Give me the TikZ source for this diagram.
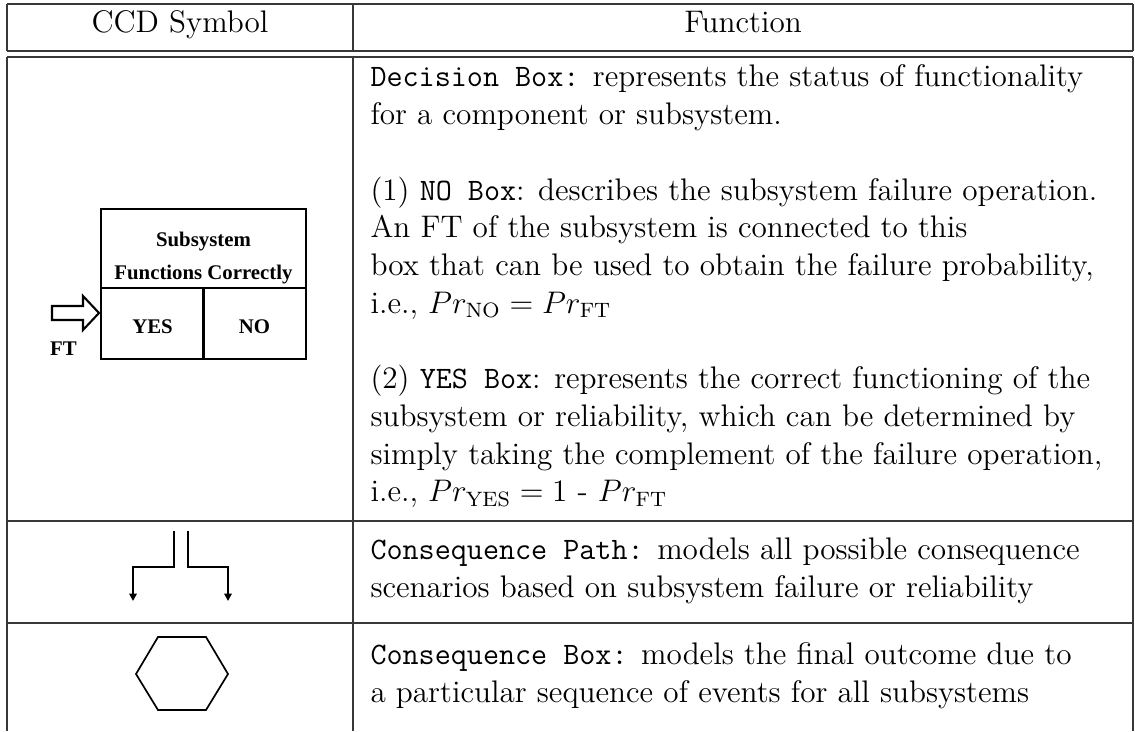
\documentclass[tikz,border=0pt]{standalone}
\usepackage{fontspec}
\newfontfamily\symfont{Liberation Serif}
\usetikzlibrary{arrows.meta}
\begin{document}
\begin{tikzpicture}[
  x=0.384615pt, y=-0.384615pt,
  rule/.style={line width=0.45pt, draw=black!78},
  symline/.style={line width=0.85pt, draw=black, line join=miter},
  thinsym/.style={line width=0.65pt, draw=black},
  hdr/.style={anchor=base, inner sep=0pt, font=\fontsize{12}{14.5}\selectfont},
  txt/.style={anchor=base west, inner sep=0pt, font=\fontsize{12}{14.5}\selectfont},
  lbl/.style={anchor=base, inner sep=0pt, font=\symfont\bfseries\fontsize{8}{9.6}\selectfont},
  tip/.style={-{Triangle[width=2.8pt,length=2.8pt]}}
]
\useasboundingbox (0,0) rectangle (1135,731);

% ---------- table rules ----------
\draw[rule] (7,4) -- (1133,4);
\draw[rule] (7,51) -- (1133,51);
\draw[rule] (7,57) -- (1133,57);
\draw[rule] (7,521) -- (1133,521);
\draw[rule] (7,623) -- (1133,623);
\foreach \xx in {7,353,1133} {
  \draw[rule] (\xx,4) -- (\xx,51);
  \draw[rule] (\xx,57) -- (\xx,731);
}

% ---------- header ----------
\node[hdr] (h1) at (180,33) {CCD Symbol};
\node[hdr] (h2) at (743,33) {Function};

% ---------- decision box symbol ----------
\coordinate (dbnw) at (101,209);
\coordinate (dbse) at (306,359);
\draw[symline] (dbnw) rectangle (dbse);
\draw[symline] (101,288) -- (306,288);
\draw[symline] (203.5,288) -- (203.5,359);
\node[lbl] (sub) at (203.5,246) {Subsystem};
\node[lbl] (fun) at (203.5,279) {Functions Correctly};
\node[lbl] (yes) at (152.5,333) {YES};
\node[lbl] (no)  at (254.5,333) {NO};
% hollow input arrow from the fault tree
\draw[line width=0.8pt, line join=miter]
  (52,306) -- (83,306) -- (83,296) -- (99,313) -- (83,330) -- (83,320) -- (52,320) -- cycle;
\node[lbl] (ft) at (63.5,355) {FT};

% ---------- consequence path symbol ----------
\coordinate (pl) at (174,531);
\coordinate (pr) at (188,531);
\coordinate (plend) at (133,601);
\coordinate (prend) at (228,601);
\draw[symline, tip] (pl) -- (174,567) -- (133,567) -- (plend);
\draw[symline, tip] (pr) -- (188,567) -- (228,567) -- (prend);

% ---------- consequence box symbol ----------
\draw[thinsym] (136,674) -- (158,637) -- (206,637) -- (228,674) -- (206,710) -- (158,710) -- cycle;

% ---------- function descriptions ----------
\node[txt] (d1)  at (370,87)    {\texttt{Decision Box:} represents the status of functionality};
\node[txt] (d2)  at (370,124.7) {for a component or subsystem.};
\node[txt] (d4)  at (370,200.1) {(1) \texttt{NO Box}: describes the subsystem failure operation.};
\node[txt] (d5)  at (370,237.8) {An FT of the subsystem is connected to this};
\node[txt] (d6)  at (370,275.5) {box that can be used to obtain the failure probability,};
\node[txt] (d7)  at (370,313.2) {i.e., $Pr_{\mathrm{NO}} = Pr_{\mathrm{FT}}$};
\node[txt] (d9)  at (370,388.6) {(2) \texttt{YES Box}: represents the correct functioning of the};
\node[txt] (d10) at (370,426.3) {subsystem or reliability, which can be determined by};
\node[txt] (d11) at (370,464)   {simply taking the complement of the failure operation,};
\node[txt] (d12) at (370,501.7) {i.e., $Pr_{\mathrm{YES}} = 1$ - $Pr_{\mathrm{FT}}$};

\node[txt] (p1) at (370,559.5) {\texttt{Consequence Path:} models all possible consequence};
\node[txt] (p2) at (370,597.5) {scenarios based on subsystem failure or reliability};

\node[txt] (c1) at (370,664) {\texttt{Consequence Box:} models the final outcome due to};
\node[txt] (c2) at (370,702) {a particular sequence of events for all subsystems};
\end{tikzpicture}
\end{document}
